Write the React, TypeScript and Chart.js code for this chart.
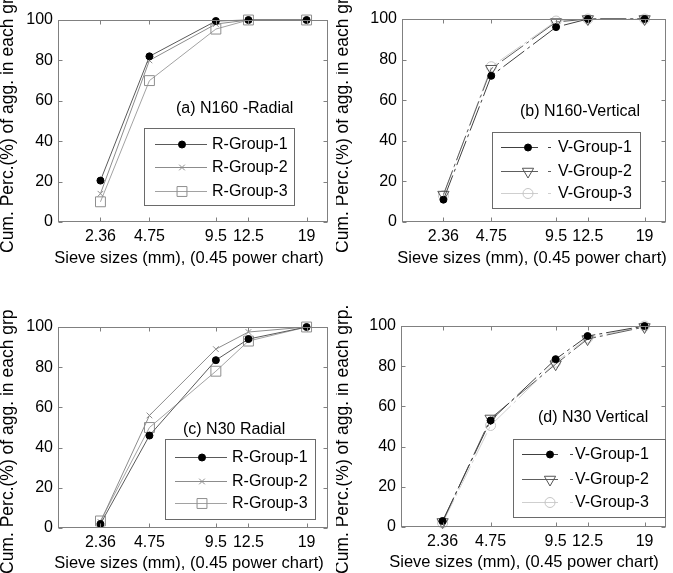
import React, { useEffect, useRef } from "react";
import { Chart, registerables } from "chart.js";

Chart.register(...registerables);

const POWER = 0.45;
const sieveSizes = [2.36, 4.75, 9.5, 12.5, 19];
const sieveLabels = ["2.36", "4.75", "9.5", "12.5", "19"];
const yTickValues = [0, 20, 40, 60, 80, 100];

const n160Radial1 = [20.5, 82, 99.5, 100, 100];
const n160Radial2 = [14, 80, 98, 100, 100];
const n160Radial3 = [10, 70, 95.5, 100, 100];

const n160Vertical1 = [11, 72, 96, 100, 100];
const n160Vertical2 = [13.5, 75.5, 98.5, 100, 100];
const n160Vertical3 = [13, 76.5, 99, 100, 100];

const n30Radial1 = [2, 46, 83.5, 94, 100];
const n30Radial2 = [3, 56, 89, 97.5, 100];
const n30Radial3 = [3.5, 50, 78, 93, 100];

const n30Vertical1 = [3, 53, 83.5, 95, 100];
const n30Vertical2 = [2.5, 54, 81, 93.5, 99.5];
const n30Vertical3 = [2, 50.5, 82, 94, 100];

const radialNames = ["R-Group-1", "R-Group-2", "R-Group-3"];
const verticalNames = ["V-Group-1", "V-Group-2", "V-Group-3"];

const FONT = '"Liberation Sans", Arial, Helvetica, sans-serif';
const AXIS_COLOR = "#808080";

type SeriesStyle = {
  line: string;
  marker: string;
  radius: number;
  fill: string;
  stroke: string;
  rotation: number;
  dash: number[];
};

const radialStyles: SeriesStyle[] = [
  { line: "#5a5a5a", marker: "circle", radius: 3.5, fill: "#000000", stroke: "#000000", rotation: 0, dash: [] },
  { line: "#8c8c8c", marker: "crossRot", radius: 4, fill: "rgba(0,0,0,0)", stroke: "#8c8c8c", rotation: 0, dash: [] },
  { line: "#a2a2a2", marker: "rect", radius: 7, fill: "rgba(0,0,0,0)", stroke: "#8e8e8e", rotation: 0, dash: [] },
];

const verticalStyles: SeriesStyle[] = [
  { line: "#404040", marker: "circle", radius: 3.5, fill: "#000000", stroke: "#000000", rotation: 0, dash: [26, 4, 3, 4] },
  { line: "#5e5e5e", marker: "triangle", radius: 6.5, fill: "rgba(0,0,0,0)", stroke: "#555555", rotation: 180, dash: [26, 4, 3, 4] },
  { line: "#cfcfcf", marker: "circle", radius: 5, fill: "rgba(0,0,0,0)", stroke: "#c6c6c6", rotation: 0, dash: [26, 4, 3, 4] },
];

type Panel = {
  left: number;
  top: number;
  width: number;
  height: number;
  area: { left: number; top: number; right: number; bottom: number };
  label: string;
  labelX: number;
  labelY: number;
  legend: {
    x0: number; y0: number; x1: number; y1: number;
    rows: number[]; lineX0: number; lineX1: number; markerX: number; textX: number;
    dashTail: boolean; dashGap: number;
  };
  yTitle: string;
  yTitleX: number;
  yTitleBottom: number;
  xTitleX: number;
  xTitleY: number;
  names: string[];
  styles: SeriesStyle[];
  series: number[][];
};

const panels: Panel[] = [
  {
    left: 0, top: 0, width: 336, height: 286,
    area: { left: 58, top: 20, right: 330, bottom: 222 },
    label: "(a) N160 -Radial", labelX: 176, labelY: 109,
    legend: { x0: 144, y0: 128, x1: 294, y1: 205, rows: [144, 167, 191], lineX0: 155, lineX1: 207, markerX: 182, textX: 212, dashTail: false, dashGap: 0 },
    yTitle: "Cum. Perc.(%) of agg. in each grp", yTitleX: 8, yTitleBottom: 253,
    xTitleX: 189, xTitleY: 258,
    names: radialNames, styles: radialStyles,
    series: [n160Radial1, n160Radial2, n160Radial3],
  },
  {
    left: 336, top: 0, width: 337, height: 286,
    area: { left: 66, top: 19, right: 332, bottom: 222 },
    label: "(b) N160-Vertical", labelX: 184, labelY: 112,
    legend: { x0: 156, y0: 132, x1: 304, y1: 208, rows: [147, 171, 193], lineX0: 165, lineX1: 202, markerX: 192, textX: 222, dashTail: true, dashGap: 10 },
    yTitle: "Cum. Perc.(%) of agg. in each grp", yTitleX: 7, yTitleBottom: 253,
    xTitleX: 196, xTitleY: 258,
    names: verticalNames, styles: verticalStyles,
    series: [n160Vertical1, n160Vertical2, n160Vertical3],
  },
  {
    left: 0, top: 286, width: 336, height: 287,
    area: { left: 58, top: 41, right: 330, bottom: 242 },
    label: "(c) N30 Radial", labelX: 183, labelY: 144,
    legend: { x0: 165, y0: 153, x1: 315, y1: 233, rows: [171, 195, 217], lineX0: 175, lineX1: 227, markerX: 202, textX: 232, dashTail: false, dashGap: 0 },
    yTitle: "Cum. Perc.(%) of agg. in each grp", yTitleX: 8, yTitleBottom: 288,
    xTitleX: 189, xTitleY: 277,
    names: radialNames, styles: radialStyles,
    series: [n30Radial1, n30Radial2, n30Radial3],
  },
  {
    left: 336, top: 286, width: 337, height: 287,
    area: { left: 65, top: 40, right: 331, bottom: 241 },
    label: "(d) N30 Vertical", labelX: 202, labelY: 132,
    legend: { x0: 177, y0: 153, x1: 329, y1: 231, rows: [168, 193, 216], lineX0: 186, lineX1: 222, markerX: 214, textX: 239, dashTail: true, dashGap: 12 },
    yTitle: "Cum. Perc.(%) of agg. in each grp.", yTitleX: 7, yTitleBottom: 288,
    xTitleX: 188, xTitleY: 276,
    names: verticalNames, styles: verticalStyles,
    series: [n30Vertical1, n30Vertical2, n30Vertical3],
  },
];

function drawMarker(ctx: CanvasRenderingContext2D, st: SeriesStyle, x: number, y: number) {
  const r = st.radius;
  ctx.save();
  ctx.setLineDash([]);
  ctx.lineWidth = 1;
  ctx.strokeStyle = st.stroke;
  ctx.fillStyle = st.fill;
  ctx.beginPath();
  if (st.marker === "circle") {
    ctx.arc(x, y, r, 0, Math.PI * 2);
    ctx.fill();
    ctx.stroke();
  } else if (st.marker === "crossRot") {
    const d = r * Math.SQRT1_2;
    ctx.moveTo(x - d, y - d);
    ctx.lineTo(x + d, y + d);
    ctx.moveTo(x - d, y + d);
    ctx.lineTo(x + d, y - d);
    ctx.stroke();
  } else if (st.marker === "rect") {
    const s = r * Math.SQRT1_2;
    ctx.rect(x - s, y - s, 2 * s, 2 * s);
    ctx.stroke();
  } else if (st.marker === "triangle") {
    const rad = (st.rotation * Math.PI) / 180;
    for (let k = 0; k < 3; k++) {
      const a = rad + (k * 2 * Math.PI) / 3;
      const px = x + Math.sin(a) * r;
      const py = y - Math.cos(a) * r;
      if (k === 0) ctx.moveTo(px, py);
      else ctx.lineTo(px, py);
    }
    ctx.closePath();
    ctx.stroke();
  }
  ctx.restore();
}

function makeDecor(p: Panel) {
  return {
    id: "panelDecor",
    afterDraw(chart: any) {
      const ctx: CanvasRenderingContext2D = chart.ctx;
      const a = chart.chartArea;
      const xs = chart.scales.x;
      const ys = chart.scales.y;
      ctx.save();
      // box
      ctx.strokeStyle = AXIS_COLOR;
      ctx.lineWidth = 1;
      ctx.setLineDash([]);
      const L = Math.round(a.left) + 0.5;
      const R = Math.round(a.right) - 0.5;
      const T = Math.round(a.top) + 0.5;
      const B = Math.round(a.bottom) - 0.5;
      ctx.strokeRect(L, T, R - L, B - T);
      const tl = 4;
      ctx.beginPath();
      xs.ticks.forEach((t: any) => {
        const px = Math.round(xs.getPixelForValue(t.value)) + 0.5;
        ctx.moveTo(px, B);
        ctx.lineTo(px, B - tl);
        ctx.moveTo(px, T);
        ctx.lineTo(px, T + tl);
      });
      ys.ticks.forEach((t: any) => {
        const py = Math.round(ys.getPixelForValue(t.value)) + 0.5;
        ctx.moveTo(L, py);
        ctx.lineTo(L + tl, py);
        ctx.moveTo(R, py);
        ctx.lineTo(R - tl, py);
      });
      ctx.stroke();

      // annotation label
      ctx.fillStyle = "#000";
      ctx.font = `16px ${FONT}`;
      ctx.textAlign = "left";
      ctx.textBaseline = "middle";
      ctx.fillText(p.label, p.labelX, p.labelY);

      // legend
      const lg = p.legend;
      ctx.fillStyle = "#fff";
      ctx.fillRect(lg.x0, lg.y0, lg.x1 - lg.x0, lg.y1 - lg.y0);
      ctx.strokeStyle = "#6a6a6a";
      ctx.strokeRect(lg.x0 + 0.5, lg.y0 + 0.5, lg.x1 - lg.x0, lg.y1 - lg.y0);
      p.names.forEach((name, i) => {
        const st = p.styles[i];
        const y = lg.rows[i];
        ctx.strokeStyle = st.line;
        ctx.lineWidth = 1;
        ctx.beginPath();
        ctx.moveTo(lg.lineX0, y + 0.5);
        ctx.lineTo(lg.lineX1, y + 0.5);
        if (lg.dashTail) {
          ctx.moveTo(lg.lineX1 + lg.dashGap, y + 0.5);
          ctx.lineTo(lg.lineX1 + lg.dashGap + 3, y + 0.5);
        }
        ctx.stroke();
        drawMarker(ctx, st, lg.markerX, y + 0.5);
        ctx.fillStyle = "#000";
        ctx.font = `16px ${FONT}`;
        ctx.textAlign = "left";
        ctx.textBaseline = "middle";
        ctx.fillText(name, lg.textX, y + 1);
      });

      // axis titles
      ctx.fillStyle = "#000";
      ctx.font = `16.5px ${FONT}`;
      ctx.textAlign = "center";
      ctx.textBaseline = "middle";
      ctx.fillText("Sieve sizes (mm), (0.45 power chart)", p.xTitleX, p.xTitleY);

      ctx.save();
      ctx.translate(p.yTitleX, p.yTitleBottom);
      ctx.rotate(-Math.PI / 2);
      ctx.font = `17.5px ${FONT}`;
      ctx.textAlign = "left";
      ctx.textBaseline = "middle";
      ctx.fillText(p.yTitle, 0, 0);
      ctx.restore();

      ctx.restore();
    },
  };
}

function PanelChart({ p }: { p: Panel }) {
  const ref = useRef<HTMLCanvasElement | null>(null);
  useEffect(() => {
    if (!ref.current) return;
    const xVals = sieveSizes.map((s) => Math.pow(s, POWER));
    const datasets = p.series.map((vals, i) => {
      const st = p.styles[i];
      return {
        label: p.names[i],
        data: vals.map((v, j) => ({ x: xVals[j], y: v })),
        borderColor: st.line,
        borderWidth: 1,
        borderDash: st.dash,
        backgroundColor: st.fill,
        pointStyle: st.marker,
        pointRadius: st.radius,
        pointHoverRadius: st.radius,
        pointRotation: st.rotation,
        pointBackgroundColor: st.fill,
        pointBorderColor: st.stroke,
        pointBorderWidth: 1,
        tension: 0,
        fill: false,
        clip: false as any,
      };
    });
    const chart = new Chart(ref.current, {
      type: "line",
      data: { datasets },
      options: {
        animation: false,
        responsive: false,
        maintainAspectRatio: false,
        devicePixelRatio: 1,
        events: [],
        layout: {
          padding: { top: p.area.top, right: p.width - p.area.right, left: 0, bottom: 0 },
        },
        plugins: { legend: { display: false }, tooltip: { enabled: false }, title: { display: false } },
        scales: {
          x: {
            type: "linear",
            min: 1,
            max: 4,
            afterBuildTicks: (s: any) => {
              s.ticks = xVals.map((v) => ({ value: v }));
            },
            afterFit: (s: any) => {
              s.height = p.height - p.area.bottom;
            },
            ticks: {
              autoSkip: false,
              maxRotation: 0,
              minRotation: 0,
              padding: 5,
              color: "#000",
              font: { size: 16, family: FONT },
              callback: (_v: any, i: number) => sieveLabels[i],
            },
            grid: { display: false, drawTicks: false },
            border: { display: false },
          },
          y: {
            type: "linear",
            min: 0,
            max: 100,
            afterBuildTicks: (s: any) => {
              s.ticks = yTickValues.map((v) => ({ value: v }));
            },
            afterFit: (s: any) => {
              s.width = p.area.left;
            },
            ticks: {
              padding: 5,
              color: "#000",
              font: { size: 16, family: FONT },
              callback: (v: any) => String(v),
            },
            grid: { display: false, drawTicks: false },
            border: { display: false },
          },
        },
      },
      plugins: [makeDecor(p)],
    } as any);
    return () => chart.destroy();
  }, [p]);
  return (
    <canvas
      ref={ref}
      width={p.width}
      height={p.height}
      style={{ position: "absolute", left: p.left, top: p.top, width: p.width, height: p.height }}
    />
  );
}

export default function App() {
  return (
    <div style={{ position: "fixed", left: 0, top: 0, width: 673, height: 573, background: "#fff", overflow: "hidden" }}>
      {panels.map((p, i) => (
        <PanelChart key={i} p={p} />
      ))}
    </div>
  );
}
